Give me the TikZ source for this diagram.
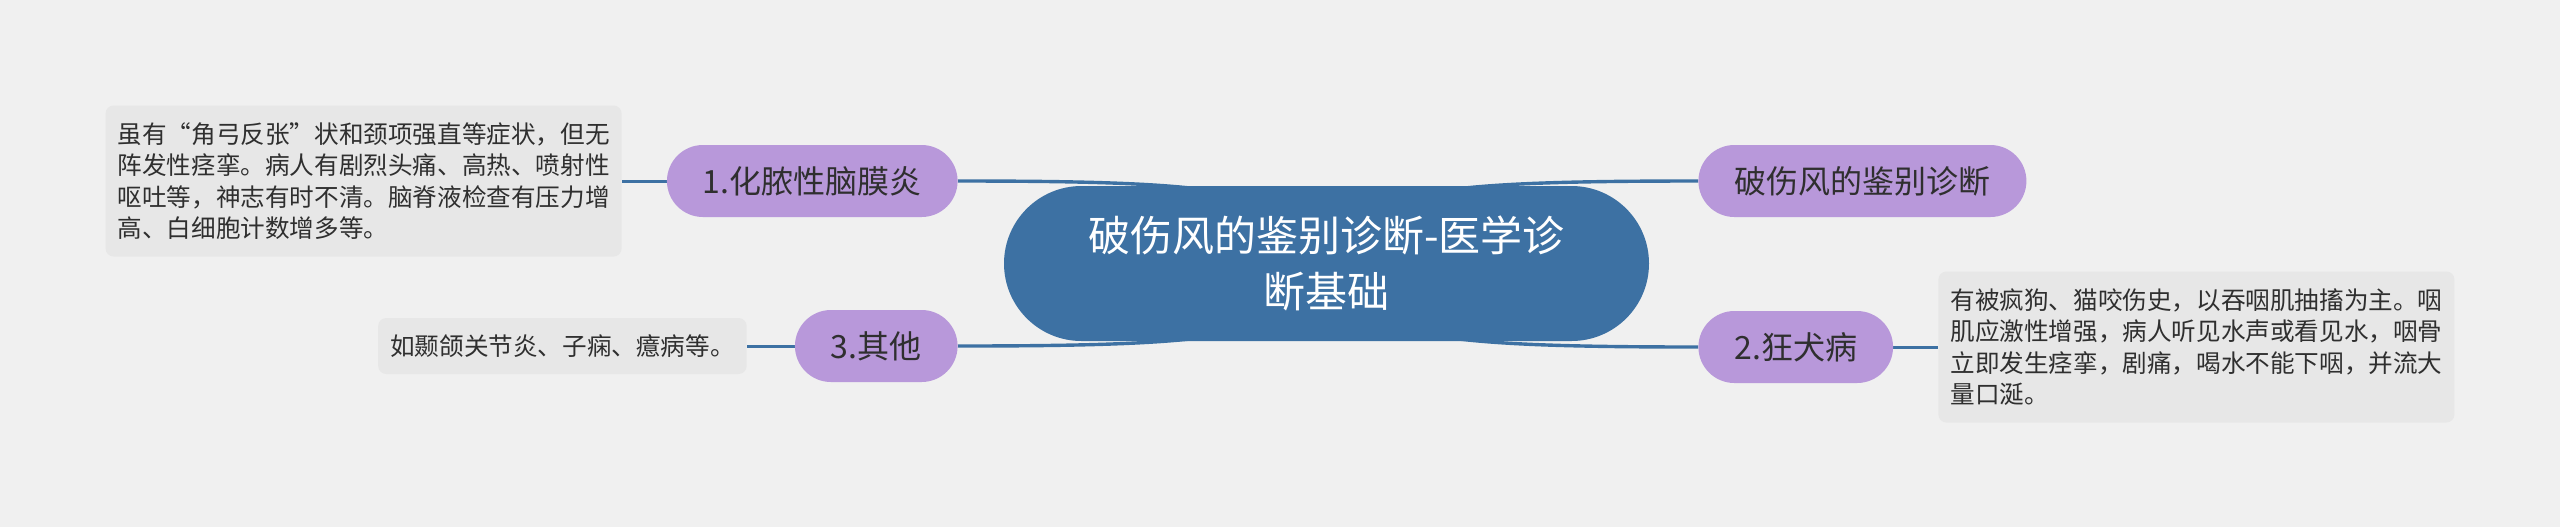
\documentclass[tikz,border=0pt]{standalone}
\usepackage{fontspec}
\setmainfont{Noto Sans CJK SC}

\definecolor{bgcol}{HTML}{F0F0F0}
\definecolor{rootcol}{HTML}{3D71A3}
\definecolor{pillcol}{HTML}{B898DA}
\definecolor{notecol}{HTML}{E7E7E7}
\definecolor{textcol}{HTML}{2F2F2F}

\pgfdeclarelayer{back}
\pgfsetlayers{back,main}

\begin{document}
\begin{tikzpicture}[x=0.5pt,y=-0.5pt,
    topic/.style={fill=rootcol,text=white,rounded corners=38.75pt,
        minimum width=322.5pt,minimum height=77.5pt,align=center,
        font=\fontsize{21}{28}\selectfont},
    pill/.style={fill=pillcol,text=textcol,rounded corners=18pt,
        minimum height=36pt,inner xsep=18pt,
        font=\fontsize{16}{20}\selectfont},
    note/.style={fill=notecol,text=textcol,rounded corners=4pt,
        inner xsep=6pt,align=left,
        font=\fontsize{12.3}{15.8}\selectfont},
    branch/.style={draw=rootcol,line width=1.7pt},
    leaf/.style={draw=rootcol,line width=1.5pt}]
    \useasboundingbox (0,0) rectangle (2560,527);

    % central topic
    \node[topic] (root) at (1326.5,263.5) {破伤风的鉴别诊断-医学诊\\断基础};

    % left branches
    \node[pill,anchor=east] (menin) at (958,181) {1.化脓性脑膜炎};
    \node[note,anchor=east,minimum height=75.5pt] (meninnote) at (622,181)
        {虽有“角弓反张”状和颈项强直等症状，但无\\
         阵发性痉挛。病人有剧烈头痛、高热、喷射性\\
         呕吐等，神志有时不清。脑脊液检查有压力增\\
         高、白细胞计数增多等。};

    \node[pill,anchor=east] (other) at (958,346) {3.其他};
    \node[note,anchor=east,minimum height=28pt] (othernote) at (747,346)
        {如颞颌关节炎、子痫、癔病等。};

    % right branches
    \node[pill,anchor=west] (diag) at (1698,181) {破伤风的鉴别诊断};

    \node[pill,anchor=west] (rabies) at (1698,347) {2.狂犬病};
    \node[note,anchor=west,minimum height=75.5pt] (rabiesnote) at (1938,347)
        {有被疯狗、猫咬伤史，以吞咽肌抽搐为主。咽\\
         肌应激性增强，病人听见水声或看见水，咽骨\\
         立即发生痉挛，剧痛，喝水不能下咽，并流大\\
         量口涎。};

    \begin{pgfonlayer}{back}
        \fill[bgcol] (0,0) rectangle (2560,527);
        % root to topics
        \draw[branch] (menin.east) .. controls +(300,0) and +(-40,-70) .. (root.center);
        \draw[branch] (other.east) .. controls +(300,0) and +(-40,70) .. (root.center);
        \draw[branch] (diag.west) .. controls +(-300,0) and +(40,-70) .. (root.center);
        \draw[branch] (rabies.west) .. controls +(-300,0) and +(40,70) .. (root.center);
        % topics to notes
        \draw[leaf] (menin.west) -- (meninnote.east);
        \draw[leaf] (other.west) -- (othernote.east);
        \draw[leaf] (rabies.east) -- (rabiesnote.west);
    \end{pgfonlayer}
\end{tikzpicture}
\end{document}
